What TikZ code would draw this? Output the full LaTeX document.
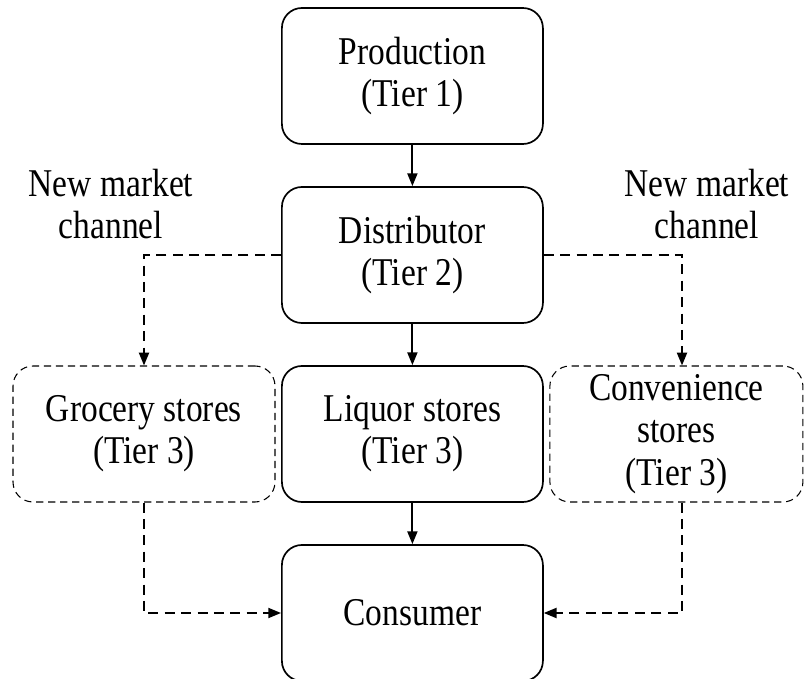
\documentclass[tikz,border=0pt]{standalone}
\usepackage{fontspec}
\setmainfont{Liberation Serif}[FakeStretch=0.85]
\usetikzlibrary{arrows.meta}

\begin{document}
\begin{tikzpicture}[
        font=\fontsize{28}{30}\selectfont,
        tierbox/.style={draw=black,line width=1.2pt,rounded corners=0.5cm,
            minimum width=6.525cm,minimum height=3.4cm,inner sep=0pt,align=center},
        newbox/.style={tierbox,line width=0.75pt,dash pattern=on 0.18cm off 0.12cm},
        arr/.style={line width=1.3pt,-{Triangle[length=0.32cm,width=0.25cm]}},
        newarr/.style={arr,line width=1.4pt,dash pattern=on 0.25cm off 0.16cm}
    ]
        \useasboundingbox (0,0) rectangle (20.1,16.95);
        % main chain
        \node[tierbox] at (10.31,15.05) (prod){Production\\(Tier 1)};
        \node[tierbox] at (10.31,10.575) (dist){Distributor\\(Tier 2)};
        \node[tierbox] at (10.31,6.1) (liq){Liquor stores\\(Tier 3)};
        \node[tierbox] at (10.31,1.625) (cons){Consumer};
        % new channels
        \node[newbox,minimum width=6.55cm] at (3.6,6.1) (groc){Grocery stores\\(Tier 3)};
        \node[newbox,minimum width=6.325cm] at (16.91,6.1) (conv){Convenience\\stores\\(Tier 3)};
        \node[align=center] at (2.775,11.85) (newl){New market\\channel};
        \node[align=center] at (17.675,11.85) (newr){New market\\channel};
        \draw[arr] (prod) -- (dist);
        \draw[arr] (dist) -- (liq);
        \draw[arr] (liq) -- (cons);
        \draw[newarr] (dist.west) -| (groc.north);
        \draw[newarr] (dist.east) -| ([xshift=0.14cm]conv.north);
        \draw[newarr] (groc.south) |- (cons.west);
        \draw[newarr] ([xshift=0.14cm]conv.south) |- (cons.east);
    \end{tikzpicture}
\end{document}
